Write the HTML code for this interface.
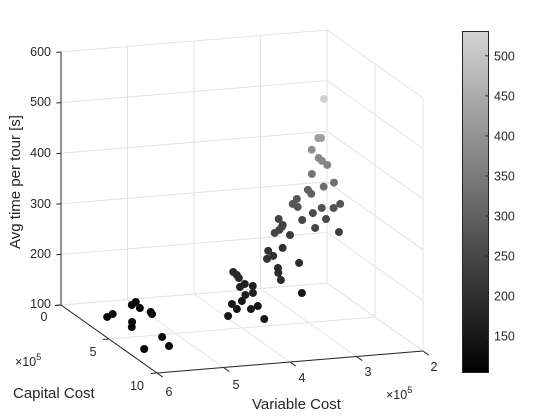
<!DOCTYPE html>
<html><head><meta charset="utf-8"><style>
html,body{margin:0;padding:0;background:#fff;}
svg{display:block;font-family:"Liberation Sans",Arial,sans-serif;}
</style></head><body>
<svg id="chart" width="560" height="420" viewBox="0 0 560 420" xmlns="http://www.w3.org/2000/svg">
<defs>
<linearGradient id="cmap" x1="0" y1="1" x2="0" y2="0">
<stop offset="0" stop-color="#000"/><stop offset="1" stop-color="#d4d4d4"/>
</linearGradient>
</defs>
<g id="grid"></g>
<g id="axes"></g>
<g id="points"></g>
<g font-size="12.5" fill="#262626">
<text x="51" y="56" text-anchor="end">600</text>
<text x="51" y="106" text-anchor="end">500</text>
<text x="51" y="157" text-anchor="end">400</text>
<text x="51" y="208" text-anchor="end">300</text>
<text x="51" y="258" text-anchor="end">200</text>
<text x="51" y="308" text-anchor="end">100</text>
<text x="44" y="321" text-anchor="middle">0</text>
<text x="93" y="356" text-anchor="middle">5</text>
<text x="137" y="390" text-anchor="middle">10</text>
<text x="15" y="366">×10<tspan dy="-6" font-size="9">5</tspan></text>
<text x="169" y="396" text-anchor="middle">6</text>
<text x="236" y="389" text-anchor="middle">5</text>
<text x="302" y="382" text-anchor="middle">4</text>
<text x="368" y="376" text-anchor="middle">3</text>
<text x="434" y="371" text-anchor="middle">2</text>
<text x="386" y="399">×10<tspan dy="-6" font-size="9">5</tspan></text>
</g>
<text x="0" y="0" font-size="15" fill="#262626" text-anchor="middle" transform="translate(20,182) rotate(-90)">Avg time per tour [s]</text>
<text x="13" y="398" font-size="15" fill="#262626">Capital Cost</text>
<text x="252" y="409" font-size="15" fill="#262626">Variable Cost</text>
<g>
<rect x="462.5" y="31.5" width="26" height="341" fill="url(#cmap)" stroke="#262626" stroke-width="1"/>
<g id="cbticks" font-size="12.5" fill="#262626"></g>
</g>
</svg>
<script>
// data: capital cost (x1e5), variable cost (x1e5), avg time [s]
const capital = [3.08,2.75,1.77,1.42,2.26,2.90,3.18,4.01,4.67,6.31,7.58,7.70,
6.60,5.78,5.06,5.93,5.61,7.39,4.78,5.35,5.17,4.25,4.24,3.90,3.19,3.63,4.05,4.38,3.05,5.10,4.14,3.48,3.17,2.84,2.12,1.89,
2.17,1.82,1.46,1.21,0.37,1.27,1.43,1.21,1.66,0.60,0.85,1.41,1.30,1.95,1.39,1.56,1.52,1.72,2.08,
1.47,1.94,2.18,2.45,2.18,2.11,1.94,2.14,2.50,4.05];
const variable = [5.75,5.62,5.19,5.08,5.14,5.07,5.09,5.51,5.61,5.39,5.47,5.86,
4.44,4.19,4.16,4.00,3.85,4.01,3.97,4.00,3.86,3.73,3.92,3.80,3.87,3.88,3.91,3.01,2.86,3.43,3.33,3.24,3.36,3.22,3.19,2.94,
3.10,2.98,2.89,2.84,2.78,2.74,2.58,2.69,2.68,2.54,2.41,2.44,2.40,2.46,2.28,2.24,2.12,2.05,2.12,
2.44,2.33,2.21,2.35,2.39,2.43,2.51,2.44,2.45,2.63];
const avgTime = [115,115,115,115,115,115,115,115,115,115,115,115,
150,150,150,150,150,150,150,170,170,170,170,170,185,185,185,150,190,190,190,190,205,205,205,205,
240,240,240,240,240,220,250,280,280,280,300,300,260,240,270,250,270,280,230,
340,320,330,370,375,380,395,420,425,525];
const zTicks = [100,200,300,400,500,600];
const capTicks = [0,5,10];
const varTicks = [2,3,4,5,6];
const cbTicks = [150,200,250,300,350,400,450,500];
const cMin = 104, cMax = 531;

const NS = "http://www.w3.org/2000/svg";
function px(c,v,z){return 61 + 9.6*c + 66.5*(6-v);}
function py(c,v,z){return 305 + 6.8*c - 5.5*(6-v) - 0.506*(z-100);}
function line(g,a,b,col,w,name){
  const l=document.createElementNS(NS,'line');
  l.setAttribute('x1',px(...a));l.setAttribute('y1',py(...a));
  l.setAttribute('x2',px(...b));l.setAttribute('y2',py(...b));
  l.setAttribute('stroke',col);l.setAttribute('stroke-width',w);
  
  
  g.appendChild(l);
}
const grid=document.getElementById('grid'), axes=document.getElementById('axes');
const gc='#e3e3e3';
zTicks.forEach(z=>{ line(grid,[0,6,z],[0,2,z],gc,1,'grid-z-back'); line(grid,[0,2,z],[10,2,z],gc,1,'grid-z-side'); });
varTicks.forEach(v=>{ line(grid,[0,v,100],[0,v,600],gc,1,'grid-var-wall'); line(grid,[0,v,100],[10,v,100],gc,1,'grid-var-floor'); });
capTicks.forEach(c=>{ line(grid,[c,2,100],[c,2,600],gc,1,'grid-cap-wall'); line(grid,[c,6,100],[c,2,100],gc,1,'grid-cap-floor'); });
const ac='#262626';
line(axes,[0,6,100],[0,6,600],ac,1,'z-axis-line');
line(axes,[0,6,100],[10,6,100],ac,1,'capital-axis-line');
line(axes,[10,6,100],[10,2,100],ac,1,'variable-axis-line');
zTicks.forEach(z=>line(axes,[0,6,z],[0,6.07,z],ac,1,'z-tick'));
capTicks.forEach(c=>line(axes,[c,6,100],[c,6.09,100],ac,1,'capital-tick'));
varTicks.forEach(v=>line(axes,[10,v,100],[10.6,v,100],ac,1,'variable-tick'));

const pts=document.getElementById('points');
function col(z){const t=Math.max(0,Math.min(1,(z-cMin)/(cMax-cMin)));const g=Math.round(t*212);return `rgb(${g},${g},${g})`;}
for(let i=0;i<capital.length;i++){
  const c=document.createElementNS(NS,'circle');
  c.setAttribute('cx',px(capital[i],variable[i],avgTime[i]));
  c.setAttribute('cy',py(capital[i],variable[i],avgTime[i]));
  c.setAttribute('r',4);
  c.setAttribute('fill',col(avgTime[i]));
  
  
  pts.appendChild(c);
}
const cbt=document.getElementById('cbticks');
function cby(v){return 373 - (v-cMin)*(342/(cMax-cMin));}
cbTicks.forEach(v=>{
  const y=cby(v);
  const l=document.createElementNS(NS,'line');
  l.setAttribute('x1',485);l.setAttribute('x2',489);l.setAttribute('y1',y);l.setAttribute('y2',y);
  l.setAttribute('stroke','#262626');
  
  
  cbt.appendChild(l);
  const t=document.createElementNS(NS,'text');
  t.setAttribute('x',494);t.setAttribute('y',y+4.5);t.textContent=v;
  
  
  cbt.appendChild(t);
});
</script>
</body></html>
